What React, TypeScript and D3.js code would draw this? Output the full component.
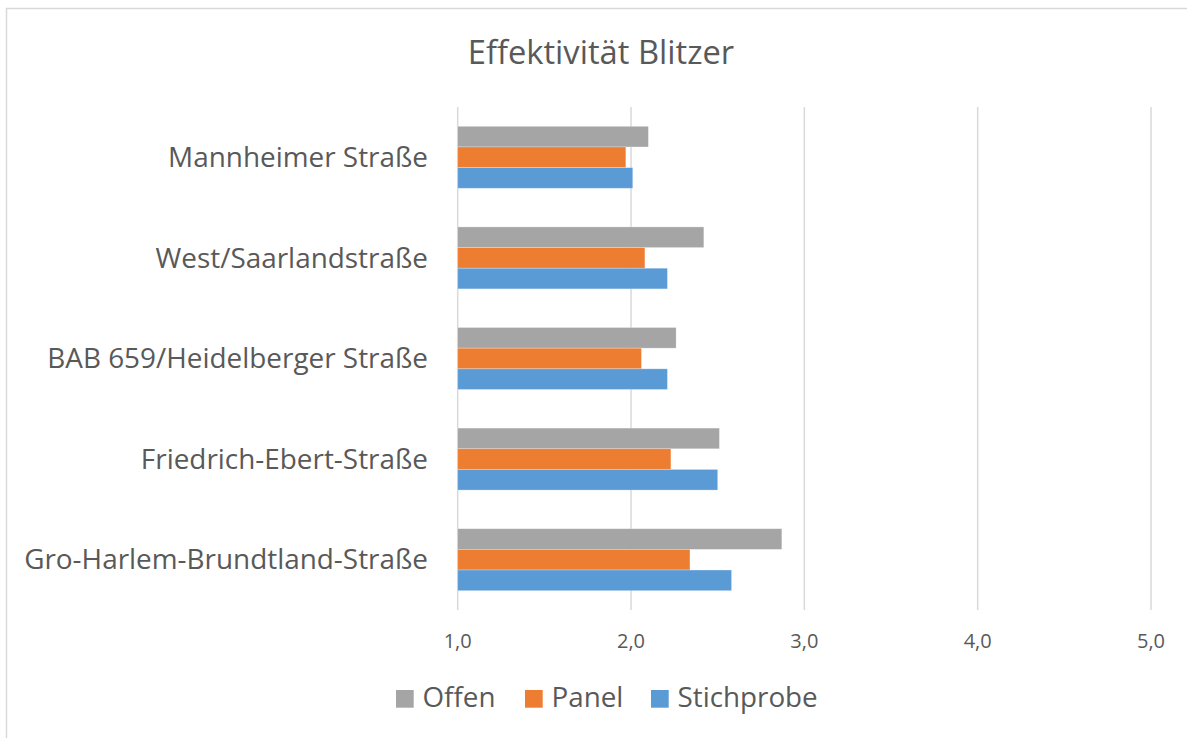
import React from "react";
import * as d3 from "d3";

const categories = [
  "Mannheimer Straße",
  "West/Saarlandstraße",
  "BAB 659/Heidelberger Straße",
  "Friedrich-Ebert-Straße",
  "Gro-Harlem-Brundtland-Straße",
];
const seriesNames = ["Offen", "Panel", "Stichprobe"];
const offen = [2.1, 2.42, 2.26, 2.51, 2.87];
const panel = [1.97, 2.08, 2.06, 2.23, 2.34];
const stichprobe = [2.01, 2.21, 2.21, 2.5, 2.58];
const xTicks = [1, 2, 3, 4, 5];

const colors = ["#A5A5A5", "#ED7D31", "#5B9BD5"];
const seriesValues = [offen, panel, stichprobe];

const W = 1187;
const H = 738;
const textColor = "#595959";
const font = "'Open Sans', 'Noto Sans', sans-serif";

export default function App() {
  const x = d3.scaleLinear().domain([1, 5]).range([457.7, 1151]);
  const y = d3
    .scaleBand<string>()
    .domain(categories)
    .range([107, 610])
    .paddingInner(0.384)
    .paddingOuter(0.192);
  const inner = d3
    .scaleBand<string>()
    .domain(seriesNames)
    .range([0, y.bandwidth()]);

  const fmt = (v: number) => d3.format(".1f")(v).replace(".", ",");

  // legend positions (square x)
  const legendX = [396, 525, 651];

  return (
    <svg
      width={W}
      height={H}
      style={{ position: "absolute", left: 0, top: 0, background: "#fff" }}
      fontFamily={font}
    >
      <rect x={0} y={0} width={W} height={H} fill="#fff" />
      <rect
        x={6.5}
        y={8.5}
        width={W + 20}
        height={H + 20}
        fill="none"
        stroke="#d9d9d9"
        strokeWidth={1.5}
      />
      <text
        x={601}
        y={64}
        textAnchor="middle"
        fontSize={32.7}
        fill={textColor}
      >
        Effektivität Blitzer
      </text>

      {/* gridlines */}
      {xTicks.map((t) => (
        <line
          key={t}
          x1={x(t)}
          x2={x(t)}
          y1={107}
          y2={610}
          stroke="#d9d9d9"
          strokeWidth={1.5}
        />
      ))}

      {/* bars */}
      {categories.map((c, i) => (
        <g key={c} transform={`translate(0,${y(c)})`}>
          {seriesNames.map((s, j) => (
            <rect
              key={s}
              x={x(1)}
              y={inner(s)}
              width={x(seriesValues[j][i]) - x(1)}
              height={inner.bandwidth()}
              fill={colors[j]}
              stroke="#fff"
              strokeOpacity={0.35}
              strokeWidth={0.75}
            />
          ))}
        </g>
      ))}

      {/* category labels */}
      {categories.map((c) => (
        <text
          key={c}
          x={428}
          y={(y(c) ?? 0) + y.bandwidth() / 2}
          dy="0.35em"
          textAnchor="end"
          fontSize={27.9}
          fill={textColor}
        >
          {c}
        </text>
      ))}

      {/* x tick labels */}
      {xTicks.map((t) => (
        <text
          key={t}
          x={x(t)}
          y={648}
          textAnchor="middle"
          fontSize={20}
          fill={textColor}
        >
          {fmt(t)}
        </text>
      ))}

      {/* legend */}
      {seriesNames.map((s, j) => (
        <g key={s}>
          <rect
            x={legendX[j]}
            y={690}
            width={17.7}
            height={17.7}
            fill={colors[j]}
          />
          <text
            x={legendX[j] + 26.5}
            y={707}
            fontSize={27.8}
            fill={textColor}
          >
            {s}
          </text>
        </g>
      ))}
    </svg>
  );
}
